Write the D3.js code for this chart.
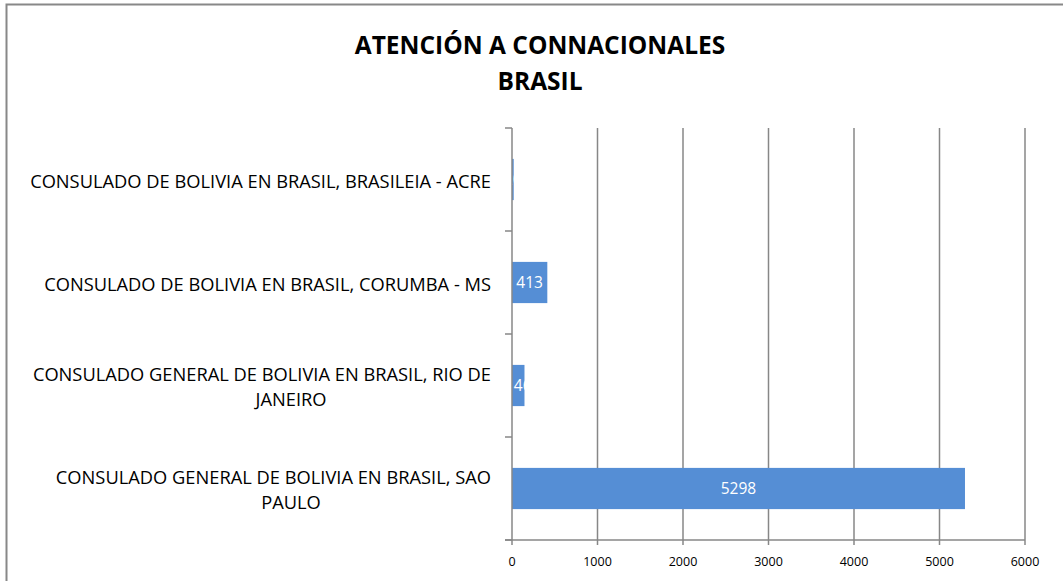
<html>
<head>
	<meta charset="utf-8">
	<title>Atención a connacionales - Brasil</title>
</head>

<style>
body{ margin:0; background:#fff; }
text{ font-family: "Open Sans", "Liberation Sans", sans-serif; }
.frame{ fill:none; stroke:#888; stroke-width:2px; }
.grid{ stroke:#878787; stroke-width:1.5px; }
.axisline{ stroke:#878787; stroke-width:1.5px; }
.bar{ fill:#558ed5; }
.title{ font-weight:bold; font-size:24.5px; fill:#000; }
.cat{ font-size:18.3px; fill:#000; }
.tick{ font-size:12.5px; fill:#000; }
.val{ font-size:15.5px; fill:#fff; }
</style>

<body>
<script src="https://cdn.jsdelivr.net/npm/d3@7"></script>
<script>

var width = 1063;
var height = 581;

// datos
var categories = [
	"CONSULADO DE BOLIVIA EN BRASIL, BRASILEIA - ACRE",
	"CONSULADO DE BOLIVIA EN BRASIL, CORUMBA - MS",
	"CONSULADO GENERAL DE BOLIVIA EN BRASIL, RIO DE JANEIRO",
	"CONSULADO GENERAL DE BOLIVIA EN BRASIL, SAO PAULO"
];
// como se parten las etiquetas en lineas
var catLines = [
	["CONSULADO DE BOLIVIA EN BRASIL, BRASILEIA - ACRE"],
	["CONSULADO DE BOLIVIA EN BRASIL, CORUMBA - MS"],
	["CONSULADO GENERAL DE BOLIVIA EN BRASIL, RIO DE", "JANEIRO"],
	["CONSULADO GENERAL DE BOLIVIA EN BRASIL, SAO", "PAULO"]
];
var values = [20, 413, 146, 5298];
var xTicks = [0, 1000, 2000, 3000, 4000, 5000, 6000];
var titleLines = ["ATENCIÓN A CONNACIONALES", "BRASIL"];

var plot = {left:512, right:1025, top:128, bottom:540};

var svg = d3.select("body").append("svg")
			.attr("width",width)
			.attr("height",height);

svg.append("rect")
	.attr("class","frame")
	.attr("x",6.5)
	.attr("y",4.5)
	.attr("width",width + 10)
	.attr("height",height + 10);

var x = d3.scaleLinear()
			.domain([0, 6000])
			.range([plot.left, plot.right]);

var y = d3.scaleBand()
			.domain(categories)
			.range([plot.top, plot.bottom])
			.paddingInner(0.6)
			.paddingOuter(0.3);

// titulo
svg.selectAll(".title")
	.data(titleLines)
	.enter().append("text")
	.attr("class","title")
	.attr("x",540)
	.attr("y",function(d,i){ return 54 + i*36; })
	.attr("text-anchor","middle")
	.text(function(d){ return d; });

// lineas de division verticales
svg.selectAll(".grid")
	.data(xTicks.slice(1))
	.enter().append("line")
	.attr("class","grid")
	.attr("x1",function(d){ return x(d); })
	.attr("x2",function(d){ return x(d); })
	.attr("y1",plot.top)
	.attr("y2",plot.bottom + 5);

// clip del area de trazado
svg.append("clipPath").attr("id","plotclip")
	.append("rect")
	.attr("x",plot.left)
	.attr("y",plot.top)
	.attr("width",plot.right - plot.left)
	.attr("height",plot.bottom - plot.top);

var g = svg.append("g").attr("clip-path","url(#plotclip)");

g.selectAll(".bar")
	.data(values)
	.enter().append("rect")
	.attr("class","bar")
	.attr("x",x(0))
	.attr("y",function(d,i){ return y(categories[i]); })
	.attr("width",function(d){ return x(d) - x(0); })
	.attr("height",y.bandwidth());

g.selectAll(".val")
	.data(values)
	.enter().append("text")
	.attr("class","val")
	.attr("x",function(d){ return (x(0) + x(d)) / 2; })
	.attr("y",function(d,i){ return y(categories[i]) + y.bandwidth()/2 + 5.5; })
	.attr("text-anchor","middle")
	.text(function(d){ return d; });

// ejes
var bounds = categories.map(function(c){ return y(c) - y.step()*y.paddingOuter(); });
bounds.push(plot.bottom);

svg.append("line").attr("class","axisline")
	.attr("x1",plot.left).attr("x2",plot.left)
	.attr("y1",plot.top).attr("y2",plot.bottom);

svg.selectAll(".ytick")
	.data(bounds)
	.enter().append("line")
	.attr("class","axisline")
	.attr("x1",plot.left - 7).attr("x2",plot.left)
	.attr("y1",function(d){ return d; })
	.attr("y2",function(d){ return d; });

svg.append("line").attr("class","axisline")
	.attr("x1",plot.left - 7).attr("x2",plot.right)
	.attr("y1",plot.bottom).attr("y2",plot.bottom);

svg.append("line").attr("class","axisline")
	.attr("x1",plot.left).attr("x2",plot.left)
	.attr("y1",plot.bottom).attr("y2",plot.bottom + 5);

svg.selectAll(".tick")
	.data(xTicks)
	.enter().append("text")
	.attr("class","tick")
	.attr("x",function(d){ return x(d); })
	.attr("y",566)
	.attr("text-anchor","middle")
	.text(function(d){ return d; });

// etiquetas de categoria
catLines.forEach(function(lines, i){
	var cy = y(categories[i]) + y.bandwidth()/2;
	var y0 = cy - (lines.length - 1) * 12.5 + 8;
	lines.forEach(function(line, j){
		svg.append("text")
			.attr("class","cat")
			.attr("x", j == 0 ? 491 : 291)
			.attr("y", y0 + j*25)
			.attr("text-anchor", j == 0 ? "end" : "middle")
			.text(line);
	});
});

</script>
</body>
</html>
